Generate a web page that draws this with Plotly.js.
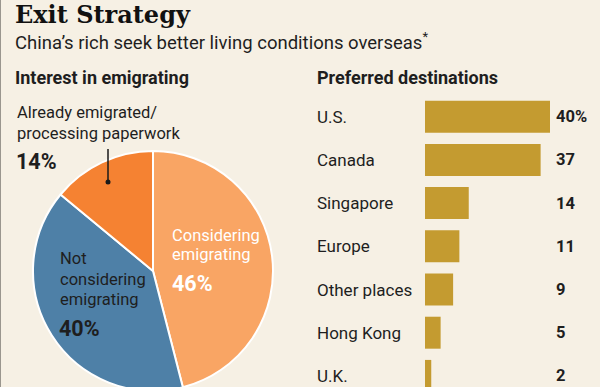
<!DOCTYPE html>
<html>
<head>
<meta charset="utf-8">
<script src="https://cdn.plot.ly/plotly-3.0.1.min.js"></script>
<style>
html,body{margin:0;padding:0;background:#F6F0E4;overflow:hidden;width:600px;height:387px;}
#chart{width:600px;height:400px;}
</style>
</head>
<body>
<div id="chart"></div>
<script>
// Pie data: interest in emigrating
const pieLabels = ["Considering emigrating", "Not considering emigrating", "Already emigrated/processing paperwork"];
const pieValues = [46, 40, 14];
const pieColors = ["#F9A564", "#4E80A7", "#F58232"];

// Bar data: preferred destinations
const destinations = ["U.S.", "Canada", "Singapore", "Europe", "Other places", "Hong Kong", "U.K."];
const destValues = [40, 37, 14, 11, 9, 5, 2];

const W = 600, H = 400;
const px = x => x / W;
const py = y => (H - y) / H;
const SANS = "Roboto, Arial, sans-serif";
const TXT = "#1e1e1e";

const traces = [
  {
    type: "pie",
    labels: pieLabels,
    values: pieValues,
    sort: false,
    direction: "clockwise",
    rotation: 0,
    marker: {colors: pieColors, line: {color: "#FFFFFF", width: 2}},
    textinfo: "none",
    hoverinfo: "label+percent",
    showlegend: false,
    domain: {x: [33 / W, 273 / W], y: [9 / H, 249 / H]}
  },
  {
    type: "bar",
    orientation: "h",
    y: destinations,
    x: destValues,
    marker: {color: "#C49B30"},
    xaxis: "x",
    yaxis: "y",
    showlegend: false,
    hoverinfo: "x+y"
  }
];

const annotations = [];
function ann(text, x, y, opts) {
  annotations.push(Object.assign({
    text: text, xref: "paper", yref: "paper", x: px(x), y: py(y),
    xanchor: "left", yanchor: "middle", showarrow: false,
    font: {family: SANS, size: 16.5, color: TXT}
  }, opts || {}));
}

// Titles
ann("<b>Exit Strategy</b>", 13, 14, {font: {family: "DejaVu Serif, serif", size: 24, color: "#111"}});
ann("China’s rich seek better living conditions overseas<sup>*</sup>", 13, 42, {font: {family: SANS, size: 18.5, color: TXT}});
ann("<b>Interest in emigrating</b>", 13, 77, {font: {family: SANS, size: 18, color: TXT}});
ann("<b>Preferred destinations</b>", 315, 77, {font: {family: SANS, size: 18, color: TXT}});

// Pie labels
ann("Already emigrated/", 15, 113);
ann("processing paperwork", 15, 133);
ann("<b>" + pieValues[2] + "%</b>", 14, 161, {font: {family: SANS, size: 21.5, color: TXT}});
ann("Considering", 170, 235, {font: {family: SANS, size: 16.5, color: "#FFFFFF"}});
ann("emigrating", 170, 255, {font: {family: SANS, size: 16.5, color: "#FFFFFF"}});
ann("<b>" + pieValues[0] + "%</b>", 170, 283, {font: {family: SANS, size: 21.5, color: "#FFFFFF"}});
ann("Not", 58, 258);
ann("considering", 58, 279);
ann("emigrating", 58, 299);
ann("<b>" + pieValues[1] + "%</b>", 57, 328, {font: {family: SANS, size: 21.5, color: TXT}});

// Bar category labels and values
destinations.forEach((d, i) => {
  annotations.push({
    text: d, xref: "paper", yref: "y", x: px(315), y: d,
    xanchor: "left", yanchor: "middle", showarrow: false,
    font: {family: SANS, size: 17, color: TXT}
  });
  annotations.push({
    text: "<b>" + destValues[i] + (i === 0 ? "%" : "") + "</b>", xref: "paper", yref: "y", x: px(554), y: d,
    xanchor: "left", yanchor: "middle", showarrow: false,
    font: {family: SANS, size: 16.5, color: TXT}
  });
});

const shapes = [
  {type: "line", xref: "paper", yref: "paper", x0: px(108), x1: px(108), y0: py(149), y1: py(181), line: {color: "#1a1a1a", width: 1.5}},
  {type: "circle", xref: "paper", yref: "paper", x0: px(105.5), x1: px(110.5), y0: py(179.5), y1: py(184.5), fillcolor: "#1a1a1a", line: {width: 0}},
  {type: "line", xref: "paper", yref: "paper", x0: 0, x1: 0, y0: 0, y1: 1, line: {color: "#9a968e", width: 2}}
];

const layout = {
  width: W, height: H,
  margin: {l: 0, r: 0, t: 0, b: 0},
  paper_bgcolor: "#F6F0E4",
  plot_bgcolor: "rgba(0,0,0,0)",
  bargap: 0.26,
  xaxis: {domain: [425 / W, 550 / W], range: [0, 40], visible: false, fixedrange: true},
  yaxis: {domain: [py(397.5), py(95.1)], autorange: "reversed", visible: false, type: "category", fixedrange: true},
  annotations: annotations,
  shapes: shapes,
  showlegend: false
};

Plotly.newPlot("chart", traces, layout, {displayModeBar: false, staticPlot: true});
</script>
</body>
</html>
